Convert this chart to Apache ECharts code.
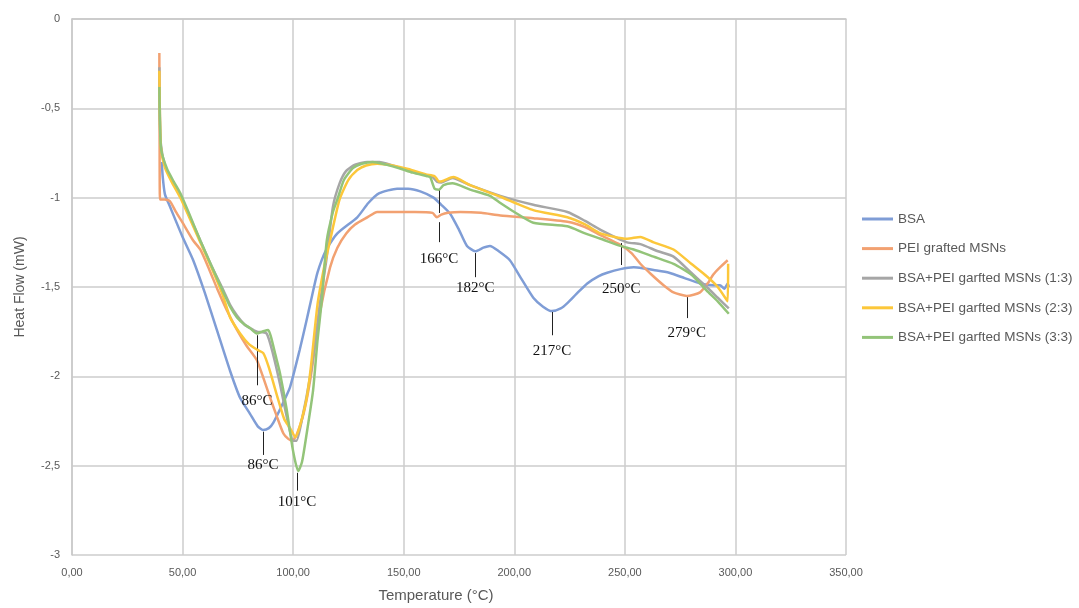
<!DOCTYPE html>
<html>
<head>
<meta charset="utf-8">
<script src="https://cdn.jsdelivr.net/npm/echarts@6/dist/echarts.min.js"></script>
<style>html,body{margin:0;padding:0;background:#fff}#c{width:1079px;height:608px}</style>
</head>
<body>
<div id="c"></div>
<script>
const seriesNames = ['BSA', 'PEI grafted MSNs', 'BSA+PEI garfted MSNs (1:3)', 'BSA+PEI garfted MSNs (2:3)', 'BSA+PEI garfted MSNs (3:3)'];
const xTicks = [0, 50, 100, 150, 200, 250, 300, 350];
const yTicks = [0, -0.5, -1, -1.5, -2, -2.5, -3];

const bsa = [[40.6,-0.8],[41,-0.88],[42,-0.98],[44.3,-1.05],[50,-1.22],[54.8,-1.35],[60,-1.53],[65.5,-1.74],[71.5,-1.97],[76,-2.12],[80.5,-2.21],[84,-2.28],[86.4,-2.30],[89,-2.29],[91,-2.26],[95,-2.16],[98.6,-2.06],[103,-1.85],[106,-1.69],[108,-1.58],[111,-1.42],[115,-1.29],[120,-1.2],[129,-1.11],[134,-1.03],[139,-0.975],[147,-0.95],[152,-0.95],[157.5,-0.965],[163.5,-1.0],[167,-1.04],[171,-1.09],[175,-1.18],[178.6,-1.27],[182.4,-1.30],[186,-1.28],[189,-1.27],[193,-1.30],[198,-1.35],[203,-1.45],[208.6,-1.56],[213,-1.61],[217,-1.635],[221,-1.62],[224,-1.59],[228,-1.54],[233,-1.48],[238,-1.44],[242,-1.42],[248,-1.40],[254,-1.39],[258,-1.395],[263,-1.405],[270,-1.42],[277,-1.45],[284,-1.48],[290,-1.49],[293,-1.49],[295,-1.51],[296.5,-1.48],[297,-1.5]];
const pei = [[39.5,-0.19],[39.6,-0.6],[39.8,-1.01],[42,-1.01],[44.3,-1.02],[47,-1.08],[50,-1.14],[54.8,-1.24],[58,-1.29],[62,-1.40],[66,-1.52],[70,-1.63],[74.6,-1.74],[79,-1.83],[83.6,-1.91],[89.6,-2.12],[92.5,-2.22],[95.6,-2.32],[97.8,-2.35],[99.5,-2.36],[101.5,-2.33],[104.7,-2.21],[108,-2.0],[112,-1.65],[116.7,-1.39],[120,-1.28],[124,-1.20],[128,-1.15],[133.5,-1.11],[138,-1.08],[145,-1.08],[155,-1.08],[163,-1.085],[165,-1.11],[167,-1.095],[170,-1.085],[175.6,-1.08],[185,-1.085],[193.7,-1.10],[208.6,-1.115],[224,-1.135],[232,-1.165],[239,-1.21],[248,-1.265],[253,-1.31],[257,-1.37],[262,-1.43],[267.5,-1.49],[272,-1.53],[278,-1.55],[284,-1.53],[288,-1.47],[290,-1.43],[293,-1.39],[296.5,-1.35]];
const mix13 = [[39.5,-0.27],[39.7,-0.5],[40.2,-0.7],[42,-0.82],[45,-0.9],[49,-0.99],[53,-1.1],[58,-1.24],[63,-1.38],[68.5,-1.52],[71.5,-1.6],[74.6,-1.66],[78,-1.71],[80.5,-1.73],[83.6,-1.75],[88,-1.76],[91,-1.88],[94,-2.04],[97,-2.22],[100,-2.36],[101.5,-2.36],[104,-2.24],[107.7,-2.0],[110,-1.80],[112,-1.6],[115,-1.35],[118,-1.05],[121,-0.92],[124,-0.85],[128,-0.815],[133.5,-0.80],[139,-0.80],[145,-0.82],[150,-0.84],[157.5,-0.865],[163,-0.885],[165,-0.91],[167,-0.915],[172,-0.89],[180,-0.93],[193.7,-0.99],[208.6,-1.04],[224,-1.08],[232,-1.13],[239,-1.18],[251,-1.25],[257,-1.26],[265,-1.3],[272,-1.33],[280,-1.42],[287,-1.50],[292,-1.56],[297,-1.62]];
const mix23 = [[39.5,-0.29],[39.7,-0.5],[40.2,-0.72],[42,-0.83],[45,-0.91],[49,-1.0],[53,-1.11],[58,-1.25],[63,-1.39],[68,-1.54],[71.5,-1.67],[76,-1.76],[80,-1.82],[83.6,-1.85],[86.5,-1.87],[89,-1.95],[93,-2.12],[96,-2.24],[98.6,-2.29],[101,-2.34],[103,-2.28],[106,-2.13],[108,-1.95],[111,-1.6],[114,-1.39],[116.7,-1.24],[121,-1.01],[125,-0.9],[129,-0.845],[133,-0.82],[138,-0.81],[145,-0.82],[152,-0.84],[160,-0.87],[164,-0.88],[166,-0.91],[168,-0.905],[172.4,-0.885],[180,-0.93],[193.7,-0.995],[208.6,-1.07],[224,-1.11],[232,-1.15],[239,-1.20],[251,-1.23],[257,-1.22],[263,-1.25],[272,-1.29],[280,-1.37],[287,-1.44],[292,-1.50],[296.5,-1.58],[296.7,-1.37]];
const mix33 = [[39.5,-0.38],[39.7,-0.55],[40.3,-0.73],[43,-0.84],[46,-0.91],[49,-0.975],[53,-1.09],[58,-1.24],[63,-1.38],[68.5,-1.53],[71.5,-1.61],[74.6,-1.67],[78,-1.71],[80.5,-1.73],[83.6,-1.76],[86,-1.75],[88.7,-1.74],[90,-1.78],[92,-1.88],[94,-1.98],[97,-2.18],[100,-2.42],[102.3,-2.53],[104,-2.48],[106,-2.33],[109,-2.08],[111,-1.8],[113,-1.57],[115.2,-1.24],[118,-1.08],[120,-1.01],[123,-0.9],[127,-0.835],[131,-0.81],[136,-0.80],[142,-0.815],[148,-0.835],[154,-0.86],[160.6,-0.88],[162,-0.885],[164,-0.95],[166,-0.955],[168,-0.93],[172,-0.92],[180,-0.955],[189,-0.99],[193.7,-1.03],[200,-1.08],[208.6,-1.14],[224,-1.16],[232,-1.20],[239,-1.23],[248,-1.27],[254,-1.29],[263,-1.33],[272,-1.37],[280,-1.43],[287,-1.52],[292,-1.58],[297,-1.65]];

// peak annotations: temperature, line start, line end, label
const peakT =     [86.4, 83.7, 101.8, 166, 166, 182.4, 217, 248.4, 278];
const peakFrom =  [-2.31, -1.77, -2.54, -0.957, -1.137, -1.31, -1.64, -1.254, -1.557];
const peakTo =    [-2.44, -2.05, -2.64, -1.086, -1.249, -1.445, -1.77, -1.377, -1.674];
const peakLabel = ['86°C', '86°C', '101°C', '', '166°C', '182°C', '217°C', '250°C', '279°C'];
const peakGap =   [3, 8, 4, 3, 9, 3, 8, 17, 7];

const colors = ['#7f9dd6', '#f2a171', '#a6a6a6', '#fcc73a', '#93c479'];
const allData = [bsa, pei, mix13, mix23, mix33];

const fmt = v => String(v).replace('.', ',');
const markData = peakT.map((t, i) => [
  {coord: [t, peakFrom[i]], name: peakLabel[i], label: {distance: peakGap[i]}},
  {coord: [t, peakTo[i]]}
]);

const series = allData.map((d, i) => ({
  name: seriesNames[i],
  type: 'line',
  data: d,
  symbol: 'none',
  smooth: 0.2,
  lineStyle: {color: colors[i], width: 2.5},
  itemStyle: {color: colors[i]},
  z: 2 + i
}));
series[4].markLine = {
  silent: true,
  symbol: ['none', 'none'],
  animation: false,
  lineStyle: {color: '#222', width: 1, type: 'solid'},
  label: {
    show: true, position: 'end',
    formatter: p => p.name,
    fontFamily: 'Liberation Serif', fontSize: 15, color: '#111'
  },
  emphasis: {disabled: true},
  data: markData
};

const chart = echarts.init(document.getElementById('c'));
chart.setOption({
  animation: false,
  backgroundColor: '#fff',
  grid: {left: 72, top: 19, right: 233, bottom: 53, containLabel: false},
  legend: {
    orient: 'vertical', left: 857, top: 206,
    icon: 'rect',
    itemWidth: 31, itemHeight: 3, itemGap: 13.6,
    data: seriesNames,
    textStyle: {fontFamily: 'Liberation Sans', fontSize: 13.5, color: '#595959', lineHeight: 16}
  },
  xAxis: {
    type: 'value', min: 0, max: 350, interval: 50,
    name: 'Temperature (°C)', nameLocation: 'middle', nameGap: 33,
    nameTextStyle: {fontFamily: 'Liberation Sans', fontSize: 15, color: '#595959', padding: [0, 46, 0, 0]},
    axisLine: {show: true, lineStyle: {color: '#c8c8c8', width: 1.5}},
    axisTick: {show: false},
    splitLine: {show: true, lineStyle: {color: '#cdcdcd', width: 1.5}},
    axisLabel: {
      margin: 12, fontFamily: 'Liberation Sans', fontSize: 11, color: '#595959',
      formatter: v => xTicks.includes(v) ? v.toFixed(2).replace('.', ',') : ''
    }
  },
  yAxis: {
    type: 'value', min: -3, max: 0, interval: 0.5,
    name: 'Heat Flow (mW)', nameLocation: 'middle', nameGap: 45, nameRotate: 90,
    nameTextStyle: {fontFamily: 'Liberation Sans', fontSize: 14, color: '#595959'},
    axisLine: {show: true, lineStyle: {color: '#c8c8c8', width: 1.5}},
    axisTick: {show: false},
    splitLine: {show: true, lineStyle: {color: '#cdcdcd', width: 1.5}},
    axisLabel: {
      margin: 12, fontFamily: 'Liberation Sans', fontSize: 11, color: '#595959',
      formatter: v => yTicks.includes(v) ? fmt(v) : ''
    }
  },
  series: series
});
</script>
</body>
</html>
